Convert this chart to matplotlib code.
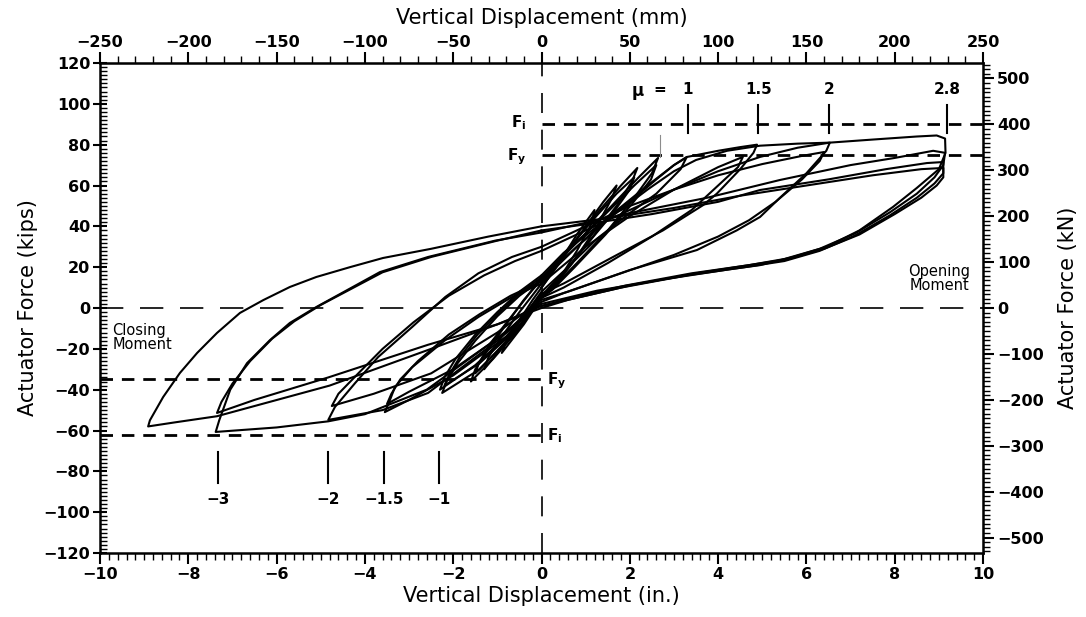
import matplotlib
matplotlib.use("Agg")
import matplotlib.pyplot as plt
from matplotlib.ticker import MultipleLocator

plt.rcParams['font.family'] = ['DejaVu Sans']
plt.rcParams['mathtext.fontset'] = 'dejavusans'

# ---------------- data (inches, kips) ----------------
cycle1_x = [0, 0.4, 0.8, 1.2, 1.15, 0.8, 0.4, 0, -0.4, -0.9, -0.8, -0.5, -0.2, 0]
cycle1_y = [10, 22, 36, 48, 42, 28, 14, 5, -8, -22, -16, -6, 4, 10]

cycle2_x = [0, 0.5, 1.0, 1.4, 1.7, 1.6, 1.2, 0.7, 0.3, 0, -0.5, -1.0, -1.3, -1.2, -0.9, -0.5, 0]
cycle2_y = [10, 25, 40, 52, 60, 54, 38, 22, 11, 6, -10, -22, -30, -24, -14, -2, 12]

cycle3_x = [0, 0.6, 1.2, 1.8, 2.17, 2.05, 1.7, 1.2, 0.6, 0, -0.5, -1.1, -1.6, -1.5, -1.2, -0.8, -0.4, 0]
cycle3_y = [12, 28, 45, 60, 68.6, 62, 50, 36, 20, 6, -10, -25, -36, -30, -20, -8, 4, 14]

cycle4_x = [0, 0.6, 1.2, 1.7, 2.1, 2.0, 1.6, 1.1, 0.5, 0, -0.5, -1.0, -1.5, -1.42, -1.15, -0.75, -0.35, 0]
cycle4_y = [14, 29, 44, 56, 64, 58, 46, 33, 17, 5, -9, -21, -32, -27, -17, -6, 5, 15]

cycle5_x = [0, 0.7, 1.5, 2.2, 2.64, 2.5, 2.1, 1.5, 0.8, 0.3, 0, -0.6, -1.4, -2.25, -2.15, -1.9, -1.5, -1.0, -0.5, 0]
cycle5_y = [14, 30, 48, 64, 73.5, 66, 54, 38, 22, 11, 6, -12, -30, -41.6, -36, -27, -16, -4, 6, 14]

cycle6_x = [0, 0.7, 1.4, 2.1, 2.6, 2.48, 2.05, 1.45, 0.75, 0.25, 0, -0.6, -1.4, -2.2, -2.1, -1.85, -1.45, -0.95, -0.45, 0]
cycle6_y = [15, 30, 45, 60, 70, 63, 51, 36, 20, 9, 5, -11, -27, -38, -33, -24, -13, -2, 8, 15]

cycle7_x = [0, 0.8, 1.6, 2.4, 3.0, 3.29, 3.15, 2.6, 2.0, 1.26, 0.5, 0, -0.6, -1.5, -2.3, -2.2, -1.95, -1.5, -1.0, -0.5, 0]
cycle7_y = [14, 30, 46, 60, 70, 74, 68, 56, 46.5, 34, 18, 8, -10, -28, -40, -34, -25, -13, -2, 8, 16]

cycle8_x = [0, 0.5, 1.26, 2.0, 2.6, 3.0, 3.3, 4.0, 4.5, 4.88, 4.8, 4.5, 3.97, 3.66, 2.75, 1.62, 0.5, 0,
            -0.8, -2.0, -3.0, -3.55, -3.45, -3.32, -2.93, -2.18, -1.43, -0.67, 0]
cycle8_y = [16, 27, 40, 52, 63, 70, 74, 77, 78.8, 80, 76, 68, 56, 50.4, 38, 25, 12, 7,
            -14, -33, -45, -51, -46, -38.7, -29, -15.7, -4.4, 5.4, 12]

cycle9_x = [0, 1.0, 2.0, 3.0, 4.0, 4.56, 4.45, 4.0, 3.4, 2.5, 1.5, 0.5, 0,
            -0.8, -2.0, -3.0, -3.5, -3.4, -3.2, -2.8, -2.1, -1.4, -0.7, 0]
cycle9_y = [12, 30, 45, 58, 69, 74, 69, 60, 48, 35, 22, 10, 5,
            -12, -30, -41, -47, -42, -35, -26, -13, -3, 6, 13]

cycle10_x = [0, 0.8, 1.6, 2.4, 3.0, 3.5, 4.2, 4.95, 5.8, 6.53, 6.45, 6.0, 5.4, 4.95, 4.42, 3.52, 2.0, 0.5, 0,
             -1.0, -2.57, -3.6, -4.83, -4.68, -4.22, -3.7, -2.93, -2.18, -1.43, -0.67, 0]
cycle10_y = [13, 30, 45, 58, 67, 72.5, 77, 79.5, 80.5, 81, 77, 66, 54, 44.6, 38, 28.4, 18.6, 7.3, 3,
             -16, -41.6, -50, -54.8, -48.5, -36.7, -24, -9.3, 5.4, 17, 25, 30]

cycle11_x = [0, 1.0, 2.0, 3.0, 4.0, 5.0, 5.9, 6.4, 6.3, 5.9, 5.3, 4.7, 4.0, 3.0, 1.8, 0.6, 0,
             -1.0, -2.5, -3.8, -4.75, -4.6, -4.15, -3.6, -2.9, -2.1, -1.3, -0.6, 0]
cycle11_y = [30, 40, 50, 58, 65, 70.5, 74.5, 76.4, 72, 63, 52, 43, 35, 26, 17, 8, 4,
             -12, -32, -42, -48, -42, -32, -20, -7, 6, 16, 23, 28]

cycle12_x = [0, 1.0, 2.0, 3.0, 4.0, 4.95, 5.8, 6.53, 7.5, 8.5, 8.95, 9.14, 9.15, 9.0, 8.5, 7.96, 7.2,
             6.46, 5.7, 4.95, 4.27, 2.75, 1.26, 0, -1.2, -2.6, -4.0, -4.83, -6.0, -7.38, -7.3, -7.05,
             -6.67, -6.15, -5.7, -5.1, -4.4, -3.66, -2.57, -1.05, 0]
cycle12_y = [28, 38, 48, 58, 67, 74, 78.5, 81, 82.5, 84, 84.5, 83, 76, 68, 58.8, 49.5, 38,
             30, 25, 21, 19, 14, 8.5, 2, -18, -40, -52, -55.5, -58.5, -60.7, -55, -40,
             -27, -15.7, -7.3, 0.5, 8.8, 17.6, 25, 33, 37]

cycle13_x = [0, 2.0, 3.75, 5.4, 7.0, 8.0, 8.87, 9.14, 9.1, 8.9, 8.5, 7.9, 7.1, 6.3, 5.5, 4.7, 3.5, 2.0,
             0.8, 0, -1.0, -2.57, -4.83, -6.5, -7.35, -7.25, -7.0, -6.6, -6.1, -5.6, -5.0, -4.3, -3.6,
             -2.5, -1.0, 0]
cycle13_y = [37, 46.5, 54, 62.7, 70, 73.5, 77, 76, 70, 64, 56, 47, 36.5, 29, 24, 21, 17, 11,
             5, 1, -8, -18, -34, -45, -51.4, -46, -37, -26, -15, -6.5, 1.5, 9.5, 17.5,
             25, 33, 38]

cycle14_x = [0, 1.0, 2.5, 4.0, 4.95, 6.5, 7.8, 8.73, 9.1, 9.1, 8.9, 8.5, 7.9, 7.1, 6.3, 5.5, 4.6, 3.3,
             1.8, 0.6, 0, -2.5, -4.8, -7.35, -8.3, -8.91, -8.87, -8.57, -8.19, -7.8, -7.35, -6.83,
             -6.3, -5.7, -5.1, -4.34, -3.59, -2.5, -1.2, 0]
cycle14_y = [38, 41, 46, 52, 57.8, 63, 68, 71, 71.5, 66, 61, 54, 45.5, 35.5, 28, 23, 20, 16,
             10, 4, 0, -20, -38, -53, -56, -58, -55, -43.6, -31.8, -22, -12.2, -2.4,
             3.9, 10.3, 15.2, 20, 24.5, 29, 35, 40]

cycle15_x = [0, 1.5, 3.0, 4.5, 6.0, 7.5, 8.6, 9.1, 9.1, 8.95, 8.6, 8.0, 7.2, 6.4, 5.6, 4.7, 3.4, 1.9, 0.7, 0]
cycle15_y = [40, 44, 49, 55, 60, 65, 68, 68.6, 64, 60, 54, 46, 36, 29, 24, 21, 17, 11, 5, 1]

cycles = [(cycle1_x, cycle1_y), (cycle2_x, cycle2_y), (cycle3_x, cycle3_y), (cycle4_x, cycle4_y),
          (cycle5_x, cycle5_y), (cycle6_x, cycle6_y), (cycle7_x, cycle7_y), (cycle8_x, cycle8_y),
          (cycle9_x, cycle9_y), (cycle10_x, cycle10_y), (cycle11_x, cycle11_y),
          (cycle12_x, cycle12_y), (cycle13_x, cycle13_y), (cycle14_x, cycle14_y),
          (cycle15_x, cycle15_y)]

# reference force levels (kips)
Fi_pos, Fy_pos = 90, 75
Fy_neg, Fi_neg = -35, -62

# ductility markers (inches)
mu_pos_x = [3.31, 4.91, 6.51, 9.18]
mu_pos_labels = ['1', '1.5', '2', '2.8']
mu_neg_x = [-7.33, -4.83, -3.57, -2.32]
mu_neg_labels = ['\u22123', '\u22122', '\u22121.5', '\u22121']

KN_PER_KIP = 4.448
MM_PER_IN = 25.0

# ---------------- figure ----------------
fig = plt.figure(figsize=(10.86, 6.17), dpi=100)
ax = fig.add_axes([0.0921, 0.1037, 0.8131, 0.7942])
ax.set_xlim(-10, 10)
ax.set_ylim(-120, 120)

for cx, cy in cycles:
    ax.plot(cx, cy, color='black', lw=1.5, solid_joinstyle='round')

# zero lines
ax.plot([-10, 10], [0, 0], color='black', lw=1.2, dashes=(14, 10))
ax.plot([0, 0], [-120, 120], color='black', lw=1.2, dashes=(12, 10))

# force level lines
for yv, xr in [(Fi_pos, (0, 10)), (Fy_pos, (0, 10)), (Fy_neg, (-10, 0)), (Fi_neg, (-10, 0))]:
    ax.plot(list(xr), [yv, yv], color='black', lw=2.0, dashes=(4.5, 3.2))

lab_kw = dict(fontsize=11, fontweight='bold', color='black')
ax.text(-0.35, Fi_pos + 1, r'F$_\mathbf{i}$', ha='right', va='center', **lab_kw)
ax.text(-0.35, Fy_pos - 1, r'F$_\mathbf{y}$', ha='right', va='center', **lab_kw)
ax.text(0.12, Fy_neg - 0.5, r'F$_\mathbf{y}$', ha='left', va='center', **lab_kw)
ax.text(0.12, Fi_neg - 0.5, r'F$_\mathbf{i}$', ha='left', va='center', **lab_kw)

# ductility markers
for xv, lab in zip(mu_pos_x, mu_pos_labels):
    ax.plot([xv, xv], [85.5, 99.5], color='black', lw=1.5)
    ax.text(xv, 107, lab, ha='center', va='center', **lab_kw)
ax.text(2.17, 106.5, '\u03bc', ha='center', va='center', fontsize=12, fontweight='bold')
ax.text(2.68, 107, '=', ha='center', va='center', **lab_kw)
ax.plot([2.68, 2.68], [74, 84.5], color='0.55', lw=0.8)

for xv, lab in zip(mu_neg_x, mu_neg_labels):
    ax.plot([xv, xv], [-70.5, -85.5], color='black', lw=1.5)
    ax.text(xv, -94, lab, ha='center', va='center', **lab_kw)

ax.text(9.7, 14.5, 'Opening\nMoment', ha='right', va='center', fontsize=10.5,
        linespacing=0.95)
ax.text(-9.72, -14.5, 'Closing\nMoment', ha='left', va='center', fontsize=10.5,
        linespacing=0.95)

# ---------------- axes styling ----------------
for s in ax.spines.values():
    s.set_linewidth(1.8)

ax.xaxis.set_major_locator(MultipleLocator(2))
ax.xaxis.set_minor_locator(MultipleLocator(0.2))
ax.yaxis.set_major_locator(MultipleLocator(20))
ax.yaxis.set_minor_locator(MultipleLocator(2))
ax.tick_params(axis='x', which='major', direction='out', length=8, width=1.5,
               labelsize=11.5, pad=2)
ax.tick_params(axis='x', which='minor', direction='out', length=5, width=1.0)
ax.tick_params(axis='y', which='major', direction='inout', length=10, width=1.5,
               labelsize=11.5, pad=2)
ax.tick_params(axis='y', which='minor', direction='in', length=5, width=1.0)
for lbl in ax.get_xticklabels() + ax.get_yticklabels():
    lbl.set_fontweight('bold')

ax.set_xlabel('Vertical Displacement (in.)', fontsize=15, labelpad=3)
ax.set_ylabel('Actuator Force (kips)', fontsize=15, labelpad=4)

top = ax.secondary_xaxis('top', functions=(lambda x: x * MM_PER_IN, lambda x: x / MM_PER_IN))
top.xaxis.set_major_locator(MultipleLocator(50))
top.xaxis.set_minor_locator(MultipleLocator(10))
top.tick_params(which='major', direction='out', length=8, width=1.5, labelsize=11.5, pad=1)
top.tick_params(which='minor', direction='out', length=5, width=1.0)
for lbl in top.get_xticklabels():
    lbl.set_fontweight('bold')
top.set_xlabel('Vertical Displacement (mm)', fontsize=15, labelpad=8)

right = ax.secondary_yaxis('right', functions=(lambda y: y * KN_PER_KIP, lambda y: y / KN_PER_KIP))
right.yaxis.set_major_locator(MultipleLocator(100))
right.yaxis.set_minor_locator(MultipleLocator(10))
right.tick_params(which='major', direction='out', length=8, width=1.5, labelsize=11.5, pad=2)
right.tick_params(which='minor', direction='out', length=5, width=1.0)
for lbl in right.get_yticklabels():
    lbl.set_fontweight('bold')
right.set_ylabel('Actuator Force (kN)', fontsize=15, labelpad=10)

fig.savefig('out.png', dpi=100)
